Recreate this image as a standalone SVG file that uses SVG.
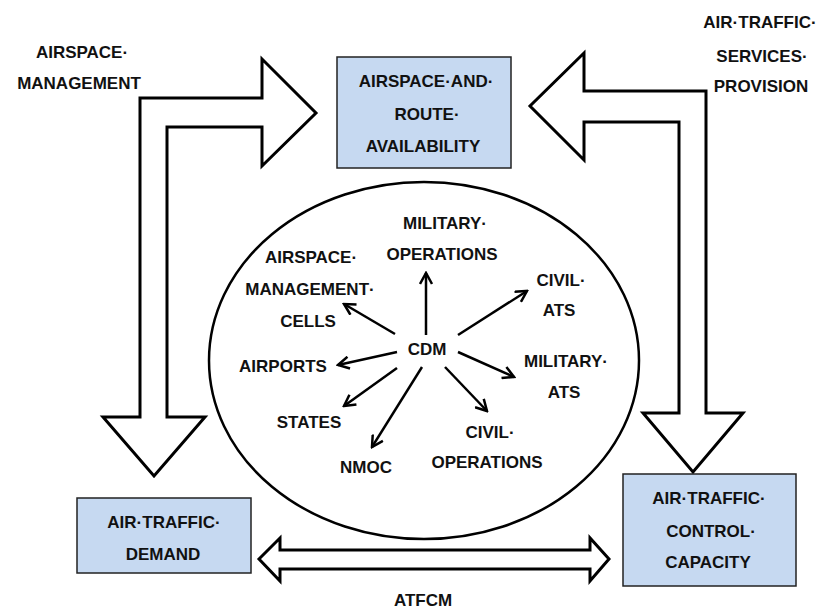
<svg xmlns="http://www.w3.org/2000/svg" width="820" height="612" viewBox="0 0 820 612">
<style>
text{font-family:"Liberation Sans",Arial,sans-serif;font-weight:bold;font-size:17px;fill:#111;text-anchor:middle}
.box{fill:#c6d9f1;stroke:#222;stroke-width:1.5}
.big{fill:#fff;stroke:#000;stroke-width:3;stroke-linejoin:miter}
.ln{fill:none;stroke:#000;stroke-width:2.5;marker-end:url(#v)}
</style>
<defs>
<marker id="v" viewBox="0 0 14 14" refX="12" refY="7" markerWidth="14" markerHeight="14" markerUnits="userSpaceOnUse" orient="auto">
<path d="M1,1 L12,7 L1,13" fill="none" stroke="#000" stroke-width="2.5"/>
</marker>
</defs>
<rect width="820" height="612" fill="#fff"/>
<g id="connectors">
<polygon id="airspace-management-arrow" class="big" points="140,417 140,98 262,98 262,59 316,113 262,166 262,127 167,127 167,417 205,417 154,476 103,417"/>
<polygon id="ats-provision-arrow" class="big" points="706,413 706,91 584,91 584,53 530,106 584,160 584,122 679,122 679,413 643,413 693,472 743,413"/>
<polygon id="atfcm-arrow" class="big" points="259,559 280,538 280,550 590,550 590,538 609,559 590,581 590,569 280,569 280,581"/>
</g>
<g id="cdm-circle">
<ellipse cx="424" cy="360.5" rx="215" ry="178.5" fill="#fff" stroke="#000" stroke-width="2.5"/>
</g>
<g id="cdm-arrows">
<line class="ln" x1="426" y1="335" x2="426" y2="273"/>
<line class="ln" x1="395" y1="334" x2="344" y2="304"/>
<line class="ln" x1="458" y1="335" x2="527" y2="291"/>
<line class="ln" x1="397" y1="352" x2="338" y2="365"/>
<line class="ln" x1="458" y1="352" x2="514" y2="377"/>
<line class="ln" x1="397" y1="368" x2="344" y2="406"/>
<line class="ln" x1="422" y1="367" x2="372" y2="447"/>
<line class="ln" x1="445" y1="367" x2="487" y2="411"/>
</g>
<g id="airspace-route-availability">
<rect class="box" x="337" y="57" width="174" height="111"/>
<text x="426" y="87">AIRSPACE·AND·</text>
<text x="427" y="120">ROUTE·</text>
<text x="423" y="152">AVAILABILITY</text>
</g>
<g id="air-traffic-demand">
<rect class="box" x="77" y="498" width="174" height="75"/>
<text x="164" y="528">AIR·TRAFFIC·</text>
<text x="163" y="560">DEMAND</text>
</g>
<g id="air-traffic-control-capacity">
<rect class="box" x="623" y="474" width="173" height="112"/>
<text x="709" y="504">AIR·TRAFFIC·</text>
<text x="711" y="537">CONTROL·</text>
<text x="708" y="568">CAPACITY</text>
</g>
<g id="label-airspace-management">
<text x="82" y="58">AIRSPACE·</text>
<text x="79" y="89">MANAGEMENT</text>
</g>
<g id="label-ats-provision">
<text x="760" y="28">AIR·TRAFFIC·</text>
<text x="762" y="62">SERVICES·</text>
<text x="761" y="92">PROVISION</text>
</g>
<g id="label-atfcm">
<text x="423" y="606">ATFCM</text>
</g>
<g id="cdm"><text x="427" y="355">CDM</text></g>
<g id="military-operations">
<text x="445" y="229">MILITARY·</text>
<text x="442" y="260">OPERATIONS</text>
</g>
<g id="airspace-management-cells">
<text x="311" y="263">AIRSPACE·</text>
<text x="310" y="295">MANAGEMENT·</text>
<text x="308" y="327">CELLS</text>
</g>
<g id="civil-ats">
<text x="561" y="286">CIVIL·</text>
<text x="559" y="316">ATS</text>
</g>
<g id="airports"><text x="283" y="372">AIRPORTS</text></g>
<g id="military-ats">
<text x="566" y="367">MILITARY·</text>
<text x="564" y="398">ATS</text>
</g>
<g id="states"><text x="309" y="428">STATES</text></g>
<g id="civil-operations">
<text x="490" y="438">CIVIL·</text>
<text x="487" y="468">OPERATIONS</text>
</g>
<g id="nmoc"><text x="366" y="473">NMOC</text></g>
</svg>
